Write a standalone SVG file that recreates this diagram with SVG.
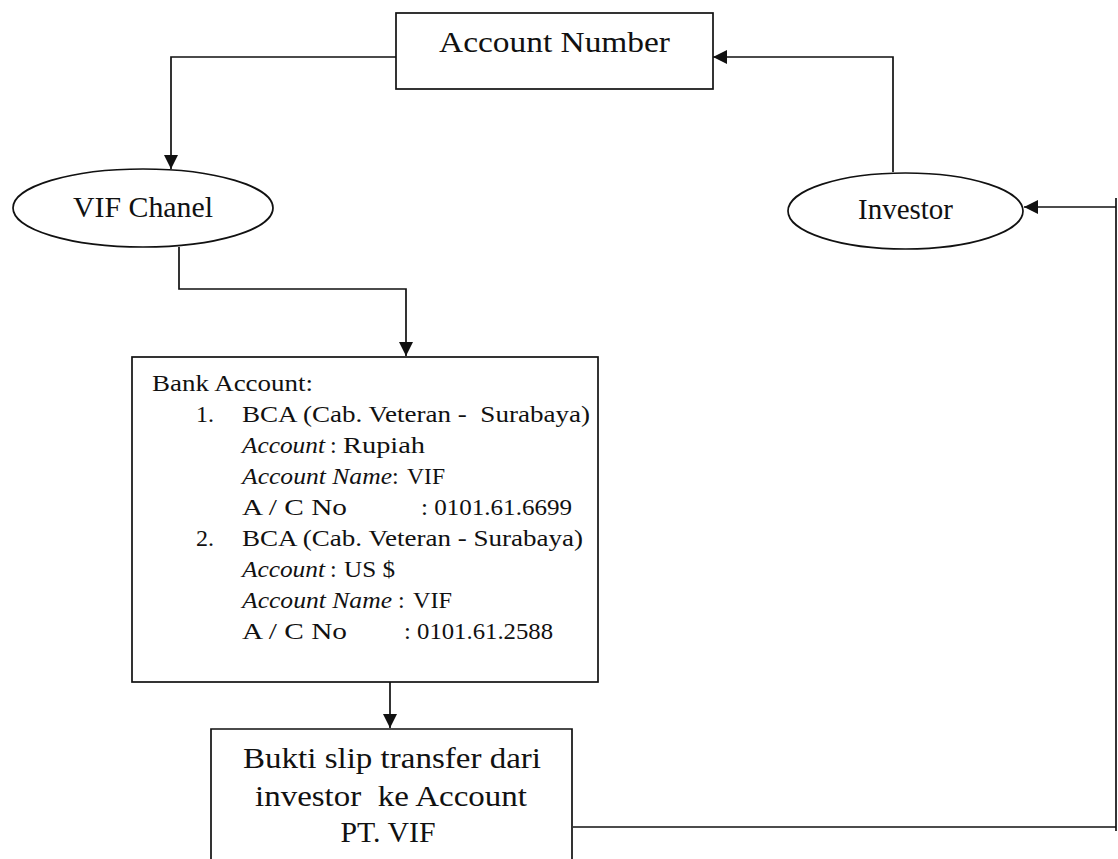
<svg xmlns="http://www.w3.org/2000/svg" width="1118" height="859" viewBox="0 0 1118 859">
  <style>
    .shape { fill: #ffffff; stroke: #111111; stroke-width: 1.7; }
    .edge { fill: none; stroke: #111111; stroke-width: 1.7; }
    .book { font-family: "Liberation Serif", "Times New Roman", serif; fill: #111111; }
    .roman { font-family: "Liberation Serif", "Times New Roman", serif; fill: #111111; }
    .body { font-size: 24px; }
    .it { font-style: italic; }
  </style>
  <defs>
    <marker id="arrow" markerUnits="userSpaceOnUse" markerWidth="14" markerHeight="14" refX="14" refY="7" orient="auto">
      <path d="M0,0 L14,7 L0,14 z" fill="#111111"/>
    </marker>
  </defs>

  <rect width="1118" height="859" fill="#ffffff"/>

  <!-- connectors -->
  <g id="connectors">
    <path class="edge" d="M396,57 H171 V169" marker-end="url(#arrow)"/>
    <path class="edge" d="M893,172 V57 H713" marker-end="url(#arrow)"/>
    <path class="edge" d="M179,247 V289 H406 V356" marker-end="url(#arrow)"/>
    <path class="edge" d="M390,682 V728" marker-end="url(#arrow)"/>
    <path class="edge" d="M573,827 H1116"/>
    <path class="edge" d="M1116,831 V198" stroke-width="2.2"/>
    <path class="edge" d="M1116,207 H1024" marker-end="url(#arrow)"/>
  </g>

  <!-- Account Number -->
  <g id="account-number">
    <rect class="shape" x="396" y="13" width="317" height="76"/>
    <text class="book" x="554.5" y="52" font-size="30" text-anchor="middle" textLength="231" lengthAdjust="spacingAndGlyphs">Account Number</text>
  </g>

  <!-- VIF Chanel -->
  <g id="vif-chanel">
    <ellipse class="shape" cx="143" cy="208" rx="130" ry="39"/>
    <text class="roman" x="143" y="217" font-size="30" text-anchor="middle" textLength="140" lengthAdjust="spacingAndGlyphs">VIF Chanel</text>
  </g>

  <!-- Investor -->
  <g id="investor">
    <ellipse class="shape" cx="905.5" cy="211" rx="117.5" ry="38"/>
    <text class="roman" x="905.5" y="219" font-size="30" text-anchor="middle" textLength="95" lengthAdjust="spacingAndGlyphs">Investor</text>
  </g>

  <!-- Bank account details -->
  <g id="bank-account">
    <rect class="shape" x="132" y="357" width="466" height="325"/>
    <g class="book body">
      <text x="152" y="391" textLength="161" lengthAdjust="spacingAndGlyphs">Bank Account:</text>

      <text x="196" y="422">1.</text>
      <text x="242" y="422" textLength="348" lengthAdjust="spacingAndGlyphs" xml:space="preserve">BCA (Cab. Veteran -  Surabaya)</text>
      <text class="it" x="242" y="453" textLength="83" lengthAdjust="spacingAndGlyphs">Account</text>
      <text x="330" y="453">:</text>
      <text x="343" y="453" textLength="82" lengthAdjust="spacingAndGlyphs">Rupiah</text>
      <text class="it" x="242" y="484" textLength="150" lengthAdjust="spacingAndGlyphs">Account Name</text>
      <text x="392" y="484">:</text>
      <text x="407" y="484" textLength="38" lengthAdjust="spacingAndGlyphs">VIF</text>
      <text x="242" y="515" textLength="105" lengthAdjust="spacingAndGlyphs">A / C No</text>
      <text x="421" y="515" textLength="151" lengthAdjust="spacingAndGlyphs">: 0101.61.6699</text>

      <text x="196" y="546">2.</text>
      <text x="242" y="546" textLength="341" lengthAdjust="spacingAndGlyphs">BCA (Cab. Veteran - Surabaya)</text>
      <text class="it" x="242" y="577" textLength="83" lengthAdjust="spacingAndGlyphs">Account</text>
      <text x="330" y="577">:</text>
      <text x="344" y="577" textLength="51" lengthAdjust="spacingAndGlyphs">US $</text>
      <text class="it" x="242" y="608" textLength="150" lengthAdjust="spacingAndGlyphs">Account Name</text>
      <text x="398" y="608">:</text>
      <text x="413" y="608" textLength="39" lengthAdjust="spacingAndGlyphs">VIF</text>
      <text x="242" y="639" textLength="105" lengthAdjust="spacingAndGlyphs">A / C No</text>
      <text x="404" y="639" textLength="149" lengthAdjust="spacingAndGlyphs">: 0101.61.2588</text>
    </g>
  </g>

  <!-- Transfer slip (box runs off the bottom edge) -->
  <g id="bukti-transfer">
    <path class="shape" d="M211,859 V729 H572 V859"/>
    <g class="book" font-size="29" text-anchor="middle">
      <text x="392" y="768" textLength="298" lengthAdjust="spacingAndGlyphs">Bukti slip transfer dari</text>
      <text x="391" y="806" textLength="272" lengthAdjust="spacingAndGlyphs" xml:space="preserve">investor  ke Account</text>
      <text x="388" y="842" textLength="95" lengthAdjust="spacingAndGlyphs">PT. VIF</text>
    </g>
  </g>
</svg>
